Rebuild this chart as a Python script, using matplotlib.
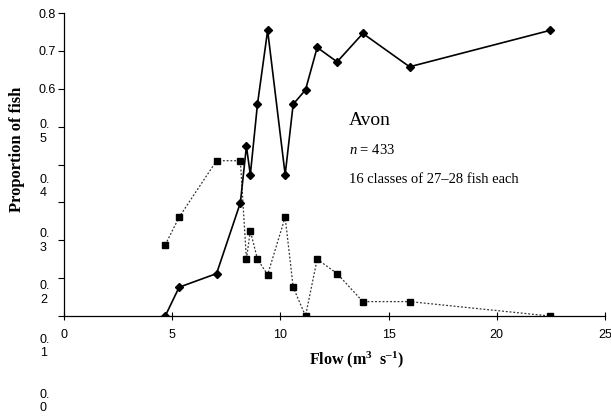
import matplotlib
matplotlib.use("Agg")
import matplotlib.pyplot as plt

# ---- data ----
flow = [4.68, 5.32, 7.05, 8.15, 8.43, 8.61, 8.94, 9.41, 10.22, 10.59, 11.16, 11.70, 12.62, 13.81, 15.97, 22.45]
diamond_vals = [0.0, 0.076, 0.112, 0.299, 0.448, 0.373, 0.559, 0.754, 0.373, 0.559, 0.597, 0.709, 0.671, 0.746, 0.658, 0.754]
square_vals = [0.188, 0.261, 0.410, 0.410, 0.150, 0.225, 0.150, 0.109, 0.261, 0.076, 0.0, 0.150, 0.112, 0.038, 0.038, 0.0]

yticks = [0.0, 0.1, 0.2, 0.3, 0.4, 0.5, 0.6, 0.7, 0.8]
ytick_labels_plain = ["", "", "", "", "", "", "0.6", "0.7", "0.8"]
wrapped_labels = ["0.\n5", "0.\n4", "0.\n3", "0.\n2", "0.\n1", "0.\n0"]
xticks = [0, 5, 10, 15, 20, 25]

plt.rcParams["mathtext.fontset"] = "custom"
plt.rcParams["mathtext.rm"] = "Liberation Serif"
plt.rcParams["mathtext.it"] = "Liberation Serif:italic"
plt.rcParams["mathtext.bf"] = "Liberation Serif:bold"
plt.rcParams["mathtext.default"] = "regular"

W, H = 611, 416
fig = plt.figure(figsize=(W / 100, H / 100), dpi=100)
ax = fig.add_axes([64 / W, 1 - 316 / H, (605 - 64) / W, (316 - 13) / H])

serif = "Liberation Serif"
sans = "Liberation Sans"

ax.plot(flow, square_vals, linestyle=(0, (1.5, 1.5)), color="#333333", linewidth=0.9,
        marker="s", markersize=4.3, markerfacecolor="black", markeredgecolor="black", zorder=2)
ax.plot(flow, diamond_vals, linestyle="-", color="black", linewidth=1.2,
        marker="D", markersize=4.5, markerfacecolor="black", markeredgecolor="black", zorder=3)

ax.set_xlim(0, 25)
ax.set_ylim(0, 0.8)
for s in ["top", "right"]:
    ax.spines[s].set_visible(False)
for s in ["left", "bottom"]:
    ax.spines[s].set_linewidth(0.9)

ax.set_xticks(xticks)
ax.set_xticklabels([str(t) for t in xticks], fontfamily=sans, fontsize=9)
ax.set_yticks(yticks)
ax.set_yticklabels(ytick_labels_plain, fontfamily=sans, fontsize=9)
ax.tick_params(axis="x", direction="inout", length=6, width=0.8, pad=6)
ax.tick_params(axis="y", direction="out", length=4, width=0.8, pad=2)

# wrapped y tick labels as in the original
label_y_px = [132, 186.5, 241, 293, 346.5, 401.5]
for lab, py in zip(wrapped_labels, label_y_px):
    fig.text(40 / W, 1 - py / H, lab, ha="left", va="center", fontfamily=sans,
             fontsize=9, linespacing=1.15)

ax.set_ylabel("Proportion of fish", fontfamily=serif, fontweight="bold", fontsize=12)
ax.yaxis.set_label_coords(-0.072, 0.55)
ax.set_xlabel("Flow (m$^{3}$  s$^{\u2013 1}$)", fontfamily=serif, fontweight="bold", fontsize=11.5)
ax.xaxis.set_label_coords(0.541, -0.112)

ax.text(13.15, 0.516, "Avon", fontfamily=serif, fontsize=14, ha="left", va="center")
ax.text(13.15, 0.439, "$\\it{n}$ = 433", fontfamily=serif, fontsize=10.5, ha="left", va="center")
ax.text(13.15, 0.361, "16 classes of 27\u201328 fish each", fontfamily=serif, fontsize=10.5,
        ha="left", va="center")

fig.savefig("out.png", dpi=100)
